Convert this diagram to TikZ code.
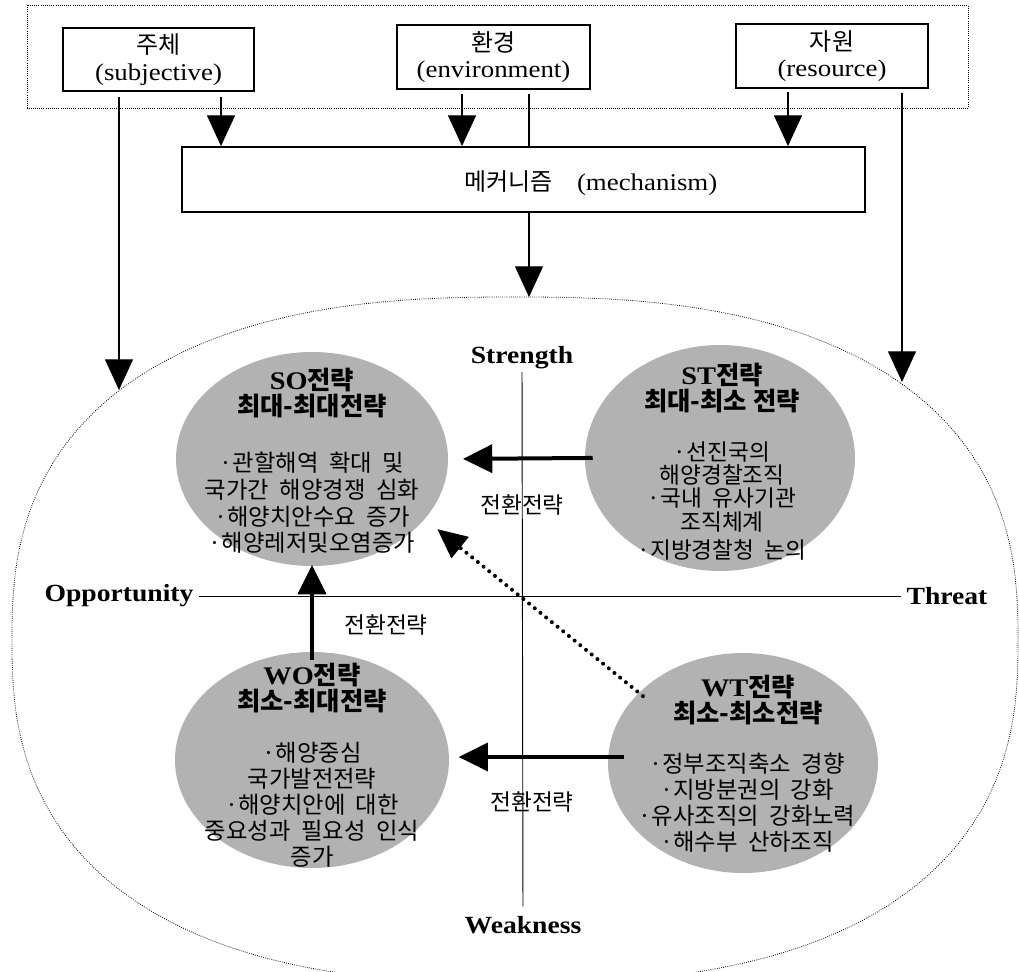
\documentclass[tikz,border=0pt]{standalone}
\usepackage{fontspec}
\setmainfont{Liberation Serif}[FakeStretch=1.12]
\newfontfamily\kr{Noto Sans CJK KR}
\newcommand\widespaces{\spaceskip=0.45em\relax}
\usetikzlibrary{arrows.meta,shapes.geometric}
\begin{document}
\begin{tikzpicture}[x=0.75pt,y=-0.75pt,
  every node/.style={inner sep=0pt},
  box/.style={draw, line width=1.4pt, align=center, font=\fontsize{18}{20}\selectfont},
  boxtext/.style={font=\fontsize{18}{20}\selectfont},
  thin arrow/.style={line width=0.8pt, -{Triangle[length=23pt,width=21pt]}},
  bold arrow/.style={line width=3pt, -{Triangle[length=22pt,width=21pt]}},
  dot arrow/.style={line width=3pt, dash pattern=on 0pt off 5.5pt, line cap=round, -{Triangle[length=22pt,width=20pt]}},
  blob/.style={ellipse, fill=black!30, draw=none},
  title/.style={align=center, font=\kr\bfseries\fontsize{19}{20}\selectfont},
  body/.style={align=center, font=\kr\fontsize{17.5}{19.5}\selectfont\widespaces},
  axis label/.style={font=\bfseries\fontsize{18.5}{18.5}\selectfont},
  turn/.style={font=\kr\fontsize{17}{17}\selectfont},
  axis/.style={line width=0.7pt},
]
\useasboundingbox (0,0) rectangle (1019,971);
\clip (0,0) rectangle (1019,971);

% dotted frame round the three inputs
\draw[densely dotted, line width=0.6pt] (27,5) rectangle (968,108);

% inputs and mechanism
\node[box, minimum width=143.25pt, minimum height=47.25pt] (subj) at (158.5,59.5) {{\kr 주체}\\(subjective)};
\node[box, minimum width=144.75pt, minimum height=48pt] (env) at (493.5,57) {{\kr 환경}\\(environment)};
\node[box, minimum width=144pt, minimum height=48pt] (res) at (832,56) {{\kr 자원}\\(resource)};
\node[box, minimum width=512.25pt, minimum height=48.75pt] (mech) at (523.5,179.5) {};
\node[boxtext] (mechlbl) at (591,183) {{\kr 메커니즘}\hspace{1em}(mechanism)};

% outer rounded field
\draw[densely dotted, line width=0.6pt]
  plot[domain=1:361, samples=181, variable=\t]
  ({515+503*sign(cos(\t))*abs(cos(\t))^0.8}, {640+343*sign(sin(\t))*abs(sin(\t))^0.8}) -- cycle;

% x positions of the feed lines
\coordinate (xA) at (221,0);
\coordinate (xB) at (462,0);
\coordinate (xC) at (529,0);
\coordinate (xD) at (788,0);
\coordinate (xL) at (119,0);
\coordinate (xR) at (902,0);
\coordinate (eL) at (119,390);
\coordinate (eR) at (902,382);
\coordinate (eT) at (529,297);

\draw[thin arrow, shorten <=4pt] (subj.south -| xA) -- (mech.north -| xA);
\draw[thin arrow, shorten <=3pt] (env.south -| xB) -- (mech.north -| xB);
\draw[line width=0.8pt, shorten <=3pt] (env.south -| xC) -- (mech.north -| xC);
\draw[thin arrow, shorten <=2pt] (res.south -| xD) -- (mech.north -| xD);
\draw[thin arrow, shorten <=4pt] (subj.south -| xL) -- (eL);
\draw[thin arrow, shorten <=3pt] (res.south -| xR) -- (eR);
\draw[thin arrow] (mech.south -| xC) -- (eT);

% quadrant axes
\node[axis label] (str) at (522,358) {Strength};
\node[axis label] (weak) at (523,925) {Weakness};
\node[axis label] (opp) at (119,596) {Opportunity};
\node[axis label] (thr) at (947,596) {Threat};
\draw[axis, shorten <=2pt, shorten >=7pt] (str.south) -- (weak.north);
\draw[axis, shorten <=4pt, shorten >=4pt] (opp.east) -- (thr.west);

% strategy blobs
\node[blob, minimum width=204pt, minimum height=160.5pt] (so) at (312,459) {};
\node[blob, minimum width=202.5pt, minimum height=169.5pt] (st) at (720,458) {};
\node[blob, minimum width=205.5pt, minimum height=162pt] (wo) at (312,760) {};
\node[blob, minimum width=202.5pt, minimum height=165pt] (wt) at (743,763) {};

\node[title] (sot) at (312,393) {{\rmfamily SO}전략\\최대-최대전략};
\node[body, font=\kr\fontsize{17.5}{20}\selectfont\widespaces] (sob) at (312,503)
  {·관할해역 확대 및\\국가간 해양경쟁 심화\\·해양치안수요 증가\\·해양레저및오염증가};

\node[title] (stt) at (722,388) {{\rmfamily ST}전략\\최대-최소 전략};
\node[body, font=\kr\fontsize{17}{17.5}\selectfont\widespaces] (stb) at (722,501)
  {·선진국의\\해양경찰조직\\·국내 유사기관\\조직체계\\[4pt]·지방경찰청 논의};

\node[title] (wot) at (312,688) {{\rmfamily WO}전략\\최소-최대전략};
\node[body] (wob) at (312,805)
  {·해양중심\\국가발전전략\\·해양치안에 대한\\중요성과 필요성 인식\\증가};

\node[title] (wtt) at (748,700) {{\rmfamily WT}전략\\최소-최소전략};
\node[body] (wtb) at (747,803)
  {·정부조직축소 경향\\·지방분권의 강화\\·유사조직의 강화노력\\·해수부 산하조직};

% transition arrows
\draw[bold arrow, shorten <=-6pt, shorten >=11pt] (st.west) -- (so.east);
\draw[bold arrow, shorten <=-6pt, shorten >=-1pt] (wo.north) -- (so.south);
\coordinate (yW) at (0,757);
\draw[bold arrow, shorten <=-12pt, shorten >=7pt] (wt.west |- yW) -- (wo.east |- yW);
\draw[dot arrow, shorten <=-4pt, shorten >=12pt] (wt.146) -- (so.-28);

\node[turn] (t1) at (522,505) {전환전략};
\node[turn] (t2) at (386,625) {전환전략};
\node[turn] (t3) at (532,802) {전환전략};
\end{tikzpicture}
\end{document}
